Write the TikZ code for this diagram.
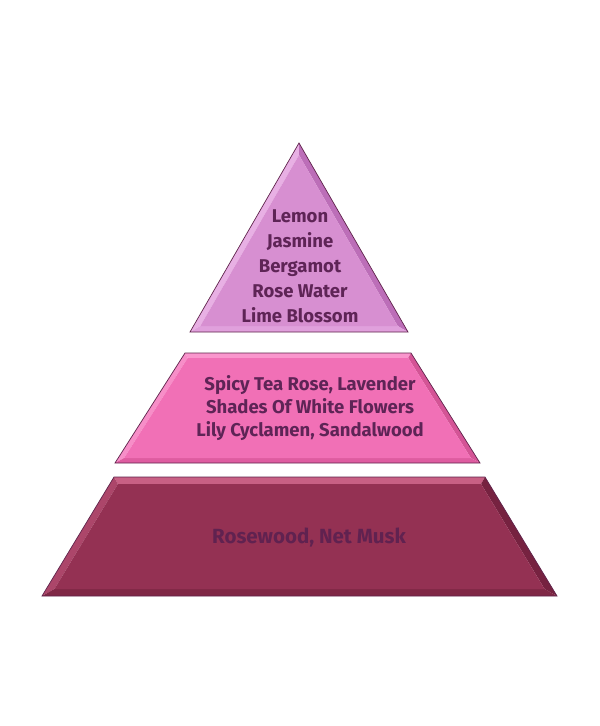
\documentclass[tikz,border=0pt]{standalone}
\usepackage{fontspec}
\setmainfont{Fira Sans}
\definecolor{txt}{RGB}{94,36,86}
\definecolor{bottxt}{RGB}{96,34,80}
\definecolor{topbase}{RGB}{215,143,209}
\definecolor{topL}{RGB}{232,176,228}
\definecolor{topR}{RGB}{188,110,184}
\definecolor{topB}{RGB}{224,160,220}
\definecolor{midbase}{RGB}{241,112,182}
\definecolor{midT}{RGB}{250,150,205}
\definecolor{midL}{RGB}{247,142,200}
\definecolor{midR}{RGB}{212,84,150}
\definecolor{midB}{RGB}{222,92,160}
\definecolor{botbase}{RGB}{148,49,83}
\definecolor{botT}{RGB}{200,96,132}
\definecolor{botL}{RGB}{172,70,106}
\definecolor{botR}{RGB}{118,34,64}
\definecolor{botB}{RGB}{128,40,70}
\definecolor{edge}{RGB}{95,35,75}
\tikzset{
  lbl/.style={text=txt, font=\bfseries\fontsize{18.5}{25}\selectfont, align=center, inner sep=0pt},
  outline/.style={draw=edge, line width=0.7pt, line join=miter}
}
\begin{document}
\begin{tikzpicture}[x=1pt,y=-1pt]
\useasboundingbox (0,0) rectangle (600,726);
% top triangle
\fill[topL] (299,143) -- (190,332) -- (200.3,326) -- (299,155) -- cycle;
\fill[topR] (299,143) -- (408,332) -- (397.7,326) -- (299,155) -- cycle;
\fill[topB] (190,332) -- (408,332) -- (397.7,326) -- (200.3,326) -- cycle;
\fill[topbase] (299,155) -- (200.3,326) -- (397.7,326) -- cycle;
\draw[outline] (299,143) -- (190,332) -- (408,332) -- cycle;
% middle trapezoid
\fill[midT] (185,353) -- (411,353) -- (408.2,358) -- (187.7,358) -- cycle;
\fill[midL] (185,353) -- (115,463) -- (124.1,458) -- (187.7,358) -- cycle;
\fill[midR] (411,353) -- (480,463) -- (470.9,458) -- (408.2,358) -- cycle;
\fill[midB] (115,463) -- (480,463) -- (470.9,458) -- (124.1,458) -- cycle;
\fill[midbase] (187.7,358) -- (408.2,358) -- (470.9,458) -- (124.1,458) -- cycle;
\draw[outline] (185,353) -- (411,353) -- (480,463) -- (115,463) -- cycle;
% bottom trapezoid
\fill[botT] (114,477) -- (485,477) -- (481.1,484) -- (117.9,484) -- cycle;
\fill[botL] (114,477) -- (42,596) -- (54.4,589) -- (117.9,484) -- cycle;
\fill[botR] (485,477) -- (557,596) -- (544.6,589) -- (481.1,484) -- cycle;
\fill[botB] (42,596) -- (557,596) -- (544.6,589) -- (54.4,589) -- cycle;
\fill[botbase] (117.9,484) -- (481.1,484) -- (544.6,589) -- (54.4,589) -- cycle;
\draw[outline] (114,477) -- (485,477) -- (557,596) -- (42,596) -- cycle;
% labels
\node[lbl] (top) at (300,266) {Lemon\\Jasmine\\Bergamot\\Rose Water\\Lime Blossom};
\node[lbl, font=\bfseries\fontsize{18.5}{23}\selectfont] (mid) at (310,408) {Spicy Tea Rose, Lavender\\Shades Of White Flowers\\Lily Cyclamen, Sandalwood};
\node[lbl, text=bottxt, font=\bfseries\fontsize{20.5}{25}\selectfont] (bot) at (309,538) {Rosewood, Net Musk};
\end{tikzpicture}
\end{document}
